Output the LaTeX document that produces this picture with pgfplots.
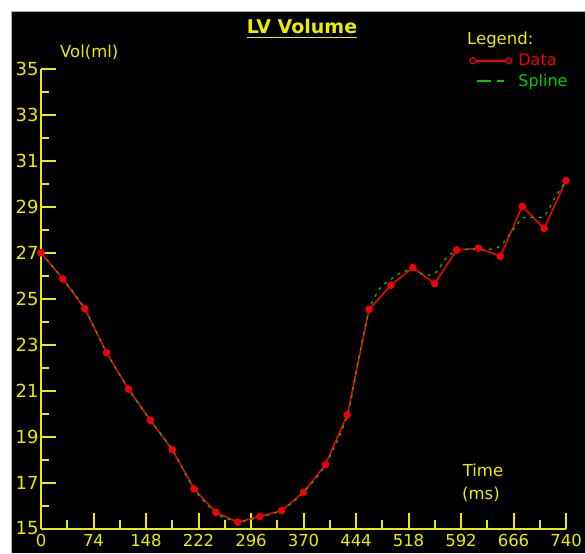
\documentclass[border=0pt]{standalone}
\usepackage{pgfplots}
\pgfplotsset{compat=1.18}
\usepackage{fontspec}
\setmainfont{DejaVu Sans}
\definecolor{ylw}{RGB}{235,235,0}
\definecolor{dred}{RGB}{240,0,0}
\definecolor{dgreen}{RGB}{0,200,0}

\pgfplotstableread{
x y
0 27.0
30.833 25.86
61.667 24.57
92.5 22.65
123.333 21.07
154.167 19.71
185 18.43
215.833 16.72
246.667 15.70
277.5 15.28
308.333 15.52
339.167 15.78
370 16.58
400.833 17.77
431.667 19.94
462.5 24.54
493.333 25.59
524.167 26.36
555 25.66
585.833 27.12
616.667 27.20
647.5 26.85
678.333 29.02
709.167 28.06
740 30.14
}\datatab

\pgfplotstableread{
x y
0 27.0
30.833 25.86
61.667 24.57
92.5 22.65
123.333 21.07
154.167 19.71
185 18.43
215.833 16.72
246.667 15.68
277.5 15.30
308.333 15.50
339.167 15.80
370 16.58
400.833 17.77
431.667 19.90
447 22.30
462.5 24.50
478 25.45
493.333 25.85
509 26.15
524.167 26.25
540 26.05
555 26.10
570.4 26.75
585.833 27.10
601 27.15
616.667 27.15
632 27.15
647.5 27.30
663 27.90
678.333 28.50
694 28.55
709.167 28.60
724.6 29.40
740 30.14
}\splinetab

\begin{document}
\begin{tikzpicture}[x=1pt,y=1pt]
% pixel (px,py) -> (px-41, 528.5-py)
\fill[white] (-41,-24.5) rectangle (544,528.5);
\fill[black] (-30,-24.5) rectangle (544,517.5);
\draw[gray!60, line width=0.8pt] (-30,-24.5) -- (-30,517.5) -- (544,517.5);
\begin{axis}[
  at={(0,0)}, anchor=south west,
  scale only axis, width=525pt, height=459.5pt,
  xmin=0, xmax=740, ymin=15, ymax=35,
  clip=false,
  axis lines=left,
  axis line style={ylw, line width=2pt, -},
  xtick={0,74,148,222,296,370,444,518,592,666,740},
  ytick={15,17,19,21,23,25,27,29,31,33,35},
  minor x tick num=1, minor y tick num=1,
  tick align=inside,
  major tick length=15pt, minor tick length=8pt,
  tick style={ylw, line width=2pt},
  /pgf/number format/assume math mode=true,
  xticklabel style={text=ylw, font=\fontsize{16.5}{16.5}\selectfont, yshift=-2pt},
  yticklabel style={text=ylw, font=\fontsize{18}{18}\selectfont, xshift=1pt},
  legend style={at={(axis description cs:0.8152,1.037)}, anchor=north west,
    draw=none, fill=none, inner sep=0pt, row sep=3pt,
    font=\fontsize{16}{16}\selectfont},
  legend cell align=left,
]
\addplot[dred, line width=1.6pt, mark=*, mark size=3.4pt,
  mark options={fill=dred, draw=dred, line width=0.4pt},
  legend image code/.code={
    \draw[dred, solid, line width=1.5pt] (0pt,0pt) -- (36pt,0pt);
    \draw[dred, solid, line width=1.2pt, fill=black] (0pt,0pt) circle (3pt) (36pt,0pt) circle (3pt);}
  ] table {\datatab};
\addlegendentry{\hspace{4pt}\textcolor{dred}{Data}}
\addplot[dgreen, line width=1.2pt, smooth, dash pattern=on 3pt off 5pt,
  legend image code/.code={
    \path (0pt,0pt) (36pt,0pt);
    \draw[dgreen, solid, line width=2pt] (4pt,0pt) -- (18pt,0pt) (24pt,0pt) -- (31pt,0pt);}
  ] table {\splinetab};
\addlegendentry{\hspace{4pt}\textcolor{dgreen}{Spline}}
\addplot[only marks, mark=*, mark size=3.4pt, dred,
  mark options={fill=dred, draw=dred, line width=0.4pt}, forget plot] table {\datatab};
\end{axis}
\node[text=ylw, font=\bfseries\fontsize{19}{19}\selectfont, anchor=base, inner sep=0pt] (t) at (261,494.9) {LV Volume};
\draw[ylw, line width=1.5pt] ([yshift=-4pt]t.base west) -- ([yshift=-4pt]t.base east);
\node[text=ylw, font=\fontsize{16.5}{16.5}\selectfont, anchor=base west, inner sep=0pt] at (19,470.5) {Vol(ml)};
\node[text=ylw, font=\fontsize{16.5}{16.5}\selectfont, anchor=base, inner sep=0pt] at (442,51.5) {Time};
\node[text=ylw, font=\fontsize{16.5}{16.5}\selectfont, anchor=base, inner sep=0pt] at (440,29.5) {(ms)};
\node[text=ylw, font=\fontsize{16.5}{16.5}\selectfont, anchor=base west, inner sep=0pt] at (426,483.5) {Legend:};
\pgfresetboundingbox
\path (-41,-24.5) rectangle (544,528.5);
\end{tikzpicture}
\end{document}
